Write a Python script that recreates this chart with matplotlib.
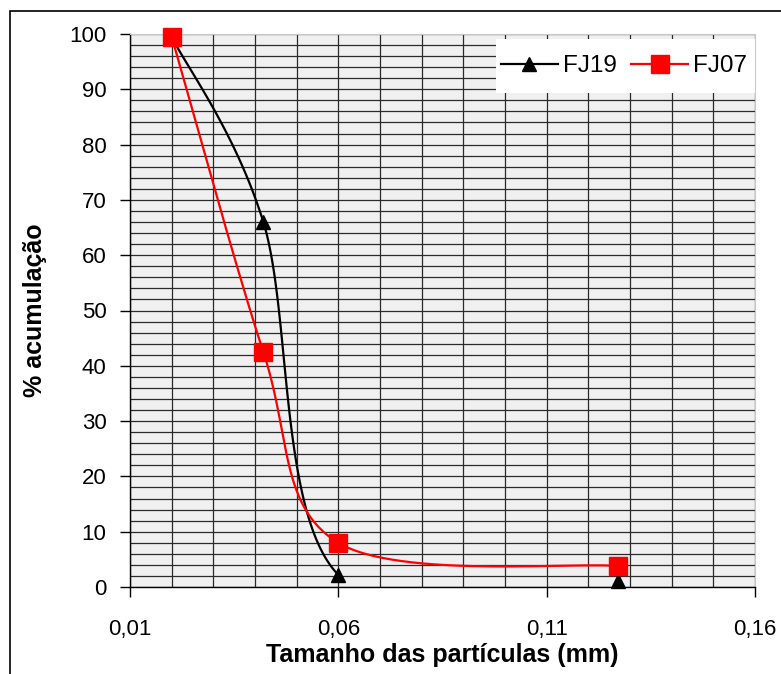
import numpy as np
import matplotlib
matplotlib.use("Agg")
import matplotlib.pyplot as plt
from matplotlib.lines import Line2D
from matplotlib.patches import Rectangle
from matplotlib.ticker import MultipleLocator, FuncFormatter

plt.rcParams['font.family'] = ['Liberation Sans', 'DejaVu Sans']

# data
fj19_x = [0.02, 0.042, 0.06, 0.127]
fj19_y = [99.5, 66.0, 2.2, 1.0]
fj07_x = [0.02, 0.042, 0.06, 0.127]
fj07_y = [99.5, 42.5, 8.0, 3.8]
x_ticks = [0.01, 0.06, 0.11, 0.16]
y_ticks = [0, 10, 20, 30, 40, 50, 60, 70, 80, 90, 100]


def smooth(xs, ys, nseg=None, n=60):
    # excel style smoothed line (catmull-rom as bezier)
    p = np.column_stack([xs, ys]).astype(float)
    if nseg is None:
        nseg = len(p) - 1
    out = [p[0]]
    for i in range(nseg):
        p0 = p[i - 1] if i > 0 else p[i]
        p3 = p[i + 2] if i + 2 < len(p) else p[i + 1]
        c1 = p[i] + (p[i + 1] - p0) / 6
        c2 = p[i + 1] - (p3 - p[i]) / 6
        t = np.linspace(0, 1, n)[1:, None]
        seg = ((1 - t) ** 3 * p[i] + 3 * (1 - t) ** 2 * t * c1
               + 3 * (1 - t) * t ** 2 * c2 + t ** 3 * p[i + 1])
        out.extend(seg)
    out = np.array(out)
    return out[:, 0], out[:, 1]


fig = plt.figure(figsize=(7.81, 6.74), dpi=100)
ax = fig.add_axes([130 / 781, 1 - 587 / 674, 625 / 781, 553 / 674])
ax.set_facecolor('#f0f0f0')

# outer chart frame
fig.patches.append(Rectangle((10 / 781, -0.05), 1.2, 1 - 11 / 674 + 0.05,
                             transform=fig.transFigure, fill=False,
                             edgecolor='black', linewidth=1.2))

ax.set_xlim(0.01, 0.16)
ax.set_ylim(0, 100)
ax.xaxis.set_minor_locator(MultipleLocator(0.01))
ax.yaxis.set_minor_locator(MultipleLocator(2))
ax.set_xticks(x_ticks)
ax.set_yticks(y_ticks)
ax.xaxis.set_major_formatter(FuncFormatter(lambda v, p: ('%.2f' % v).replace('.', ',')))
ax.grid(which='both', color='#2a2a2a', linewidth=0.9)
ax.set_axisbelow(True)
ax.tick_params(which='major', direction='out', length=7, width=1, labelsize=16)
ax.tick_params(which='minor', length=0)
ax.tick_params(axis='x', pad=16)
ax.tick_params(axis='y', pad=10)

for s in ['top', 'right']:
    ax.spines[s].set_color('#c8c8c8')
for s in ['left', 'bottom']:
    ax.spines[s].set_color('black')
    ax.spines[s].set_linewidth(1)

# FJ19: line stops at 0.06, last point is only a marker
sx, sy = smooth(fj19_x, fj19_y, nseg=2)
ax.plot(sx, sy, color='black', lw=1.6, zorder=3)
ax.plot(fj19_x, fj19_y, ls='none', marker='^', color='black', ms=10, zorder=4, clip_on=False)

sx, sy = smooth(fj07_x, fj07_y)
ax.plot(sx, sy, color='#ff0000', lw=1.6, zorder=3)
ax.plot(fj07_x, fj07_y, ls='none', marker='s', color='#ff0000', ms=13.5, zorder=5, clip_on=False)

ax.set_xlabel('Tamanho das partículas (mm)', fontsize=18, fontweight='bold', labelpad=2)
ax.set_ylabel('% acumulação', fontsize=18, fontweight='bold', labelpad=16)

# legend box
ax.add_patch(Rectangle((0.5856, 0.8933), 0.4144, 0.0977, transform=ax.transAxes,
                       facecolor='white', edgecolor='none', zorder=6))
handles = [Line2D([], [], color='black', lw=1.6, marker='^', ms=10),
           Line2D([], [], color='#ff0000', lw=1.6, marker='s', ms=13.5)]
leg = ax.legend(handles, ['FJ19', 'FJ07'], ncol=2, loc='center',
                bbox_to_anchor=(0.790, 0.942), fontsize=17.5, frameon=False,
                handlelength=2.35, columnspacing=0.6, handletextpad=0.2,
                borderpad=0, borderaxespad=0)
leg.set_zorder(7)

fig.savefig('out.png', dpi=100)
